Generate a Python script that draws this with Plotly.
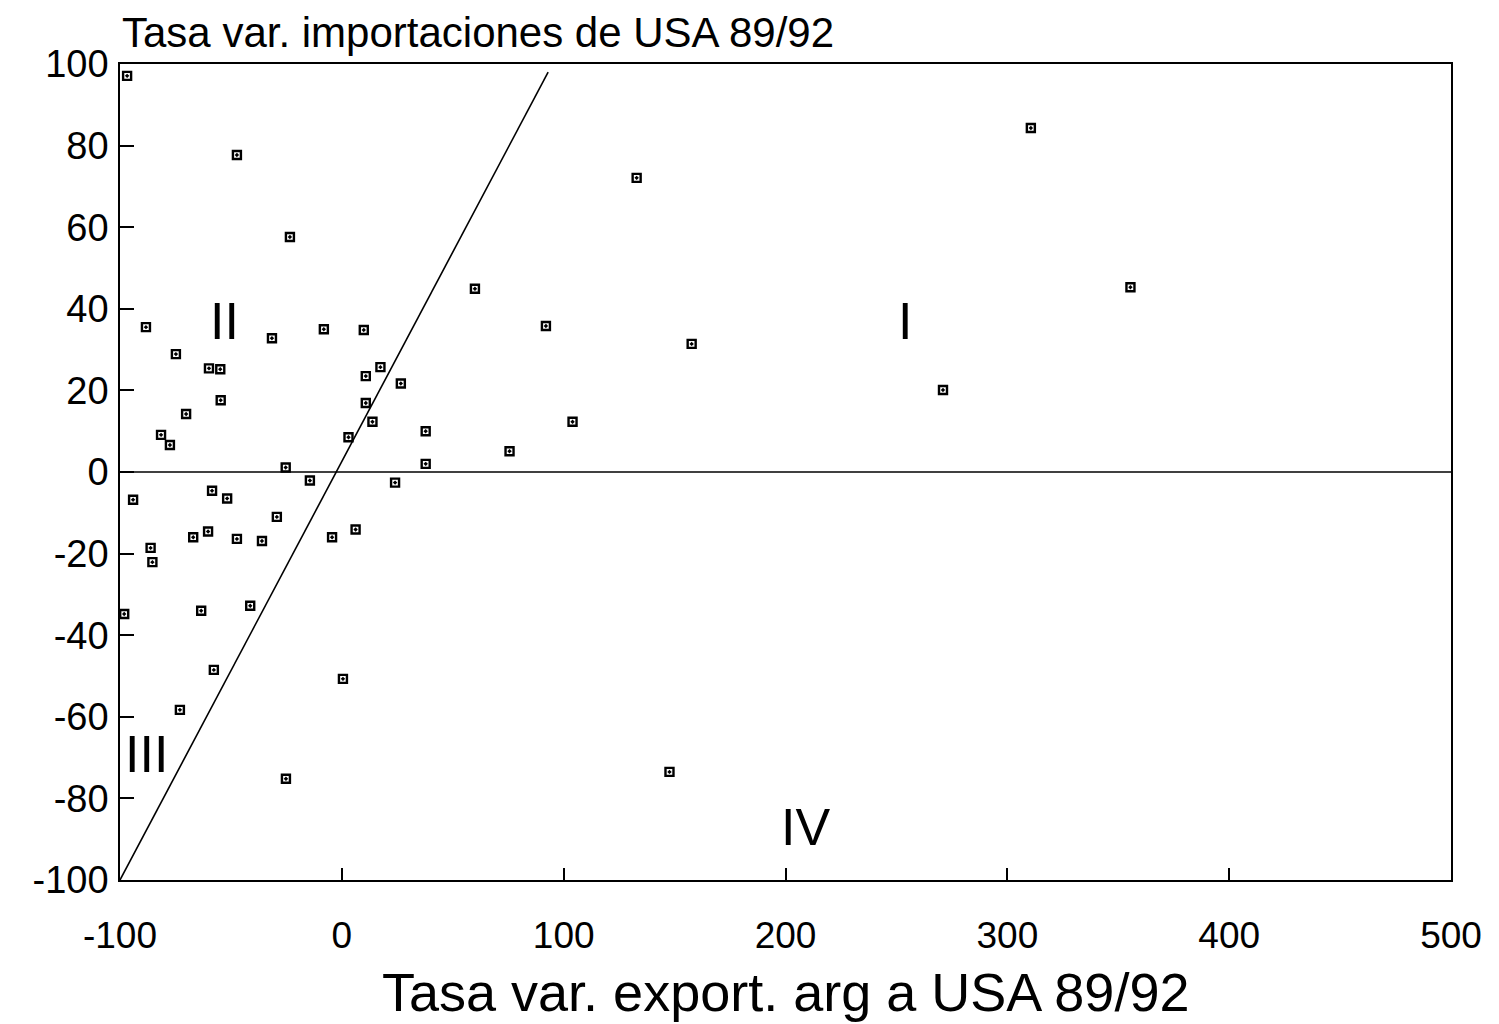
import plotly.graph_objects as go

# Data
export_var = [-96.8, -47.3, -23.4, -88.3, -31.5, -8.1, 9.9, -74.8, -59.9, -54.8,
              17.4, 10.8, 26.6, -54.6, -70.2, 10.8, 13.8, -81.5, -77.5, 3.0,
              37.8, 37.8, -25.3, -14.4, 24.0, -58.5, -51.7, -94.1, -29.3, 6.2,
              -60.3, -67.0, -47.3, -36.0, -4.4, -86.2, -85.4, -98.1, -63.4, -41.3,
              -57.7, 0.5, -73.0, -25.2, 60.0, 92.0, 132.9, 157.7, 104.0, 75.6,
              147.7, 310.6, 355.5, 271.0]
import_var = [97.1, 77.7, 57.6, 35.5, 32.8, 35.0, 34.8, 28.9, 25.4, 25.2,
              25.7, 23.5, 21.7, 17.6, 14.2, 16.9, 12.3, 9.1, 6.6, 8.5,
              10.0, 2.0, 1.1, -2.1, -2.6, -4.6, -6.5, -6.8, -11.0, -14.1,
              -14.6, -16.0, -16.4, -16.9, -16.0, -18.6, -22.1, -34.8, -34.0, -32.8,
              -48.5, -50.7, -58.3, -75.2, 44.9, 35.8, 72.1, 31.4, 12.3, 5.1,
              -73.5, 84.3, 45.3, 20.1]

diag_x = [-100, 93]
diag_y = [-100, 98]
zero_x = [-100, 500]
zero_y = [0, 0]

quad_labels = ["II", "I", "III", "IV"]
quad_x = [-53, 254, -88, 209]
quad_y = [37, 37, -69, -87]

x_ticks = [-100, 0, 100, 200, 300, 400, 500]
y_ticks = [-100, -80, -60, -40, -20, 0, 20, 40, 60, 80, 100]

FONT = "Liberation Sans"

fig = go.Figure()
fig.add_trace(go.Scatter(x=zero_x, y=zero_y, mode="lines",
                         line=dict(color="black", width=1.5), hoverinfo="skip"))
fig.add_trace(go.Scatter(x=diag_x, y=diag_y, mode="lines",
                         line=dict(color="black", width=1.6), hoverinfo="skip"))
fig.add_trace(go.Scatter(x=export_var, y=import_var, mode="markers",
                         marker=dict(symbol="square-open-dot", size=8, color="black",
                                     line=dict(color="black", width=2.4))))

for t, xx, yy in zip(quad_labels, quad_x, quad_y):
    fig.add_annotation(x=xx, y=yy, text=t, showarrow=False,
                       font=dict(family=FONT, size=52, color="black"))

fig.add_annotation(xref="paper", yref="paper", x=0, y=1, xanchor="left", yanchor="bottom",
                   yshift=6, text="Tasa var. importaciones de USA 89/92", showarrow=False,
                   font=dict(family=FONT, size=42, color="black"))

fig.add_annotation(xref="paper", yref="paper", x=0.5, y=0, xanchor="center", yanchor="middle",
                   yshift=-112, text="Tasa var. export. arg a USA 89/92", showarrow=False,
                   font=dict(family=FONT, size=54, color="black"))

fig.update_layout(
    width=1499, height=1024,
    margin=dict(l=112, r=56, t=56, b=152),
    paper_bgcolor="white", plot_bgcolor="white",
    showlegend=False,
    font=dict(family=FONT, color="black"),
)
fig.update_xaxes(range=[-100, 500], tickvals=x_ticks, ticktext=[str(v) for v in x_ticks],
                 ticks="inside", ticklen=12, tickcolor="black", tickwidth=1.5,
                 showgrid=False, zeroline=False, showline=True, linecolor="black",
                 linewidth=1.5, mirror=True, tickfont=dict(family=FONT, size=37),
                 ticklabelstandoff=22)
fig.update_yaxes(range=[-100, 100], tickvals=y_ticks, ticktext=[str(v) for v in y_ticks],
                 ticks="inside", ticklen=14, tickcolor="black", tickwidth=1.5,
                 showgrid=False, zeroline=False, showline=True, linecolor="black",
                 linewidth=1.5, mirror=True, tickfont=dict(family=FONT, size=38),
                 ticklabelstandoff=2)

fig.write_html("out.html")
